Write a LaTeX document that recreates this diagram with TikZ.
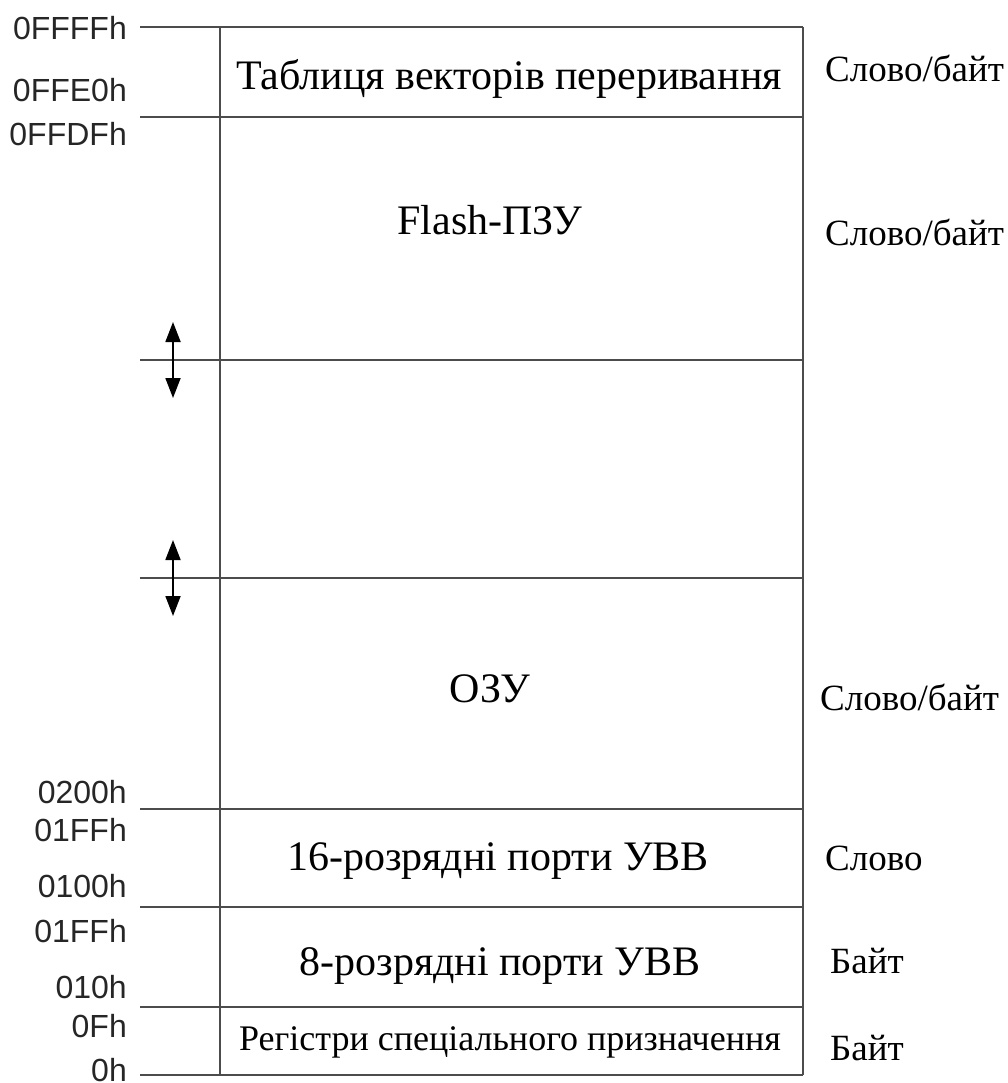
\documentclass[tikz,border=0pt]{standalone}
\usepackage{fontspec}
\setmainfont{Liberation Serif}
\newfontfamily\addrfont{Liberation Sans}
\usetikzlibrary{arrows.meta}
\tikzset{
  sepline/.style={line width=1.8pt, black!70},
  addrlbl/.style={anchor=base east, inner sep=0pt, font=\addrfont\fontsize{32}{36}\selectfont, text=black!85},
  arealbl/.style={anchor=base, inner sep=0pt, font=\fontsize{42}{46}\selectfont},
  smallarealbl/.style={anchor=base, inner sep=0pt, font=\fontsize{36}{40}\selectfont},
  acclbl/.style={anchor=base west, inner sep=0pt, font=\fontsize{37}{41}\selectfont},
  shiftarrow/.style={line width=1.8pt, black, {Triangle[width=15pt,length=20pt]}-{Triangle[width=15pt,length=20pt]}}
}
\begin{document}
\begin{tikzpicture}[x=1pt,y=-1pt]
\useasboundingbox (0,0) rectangle (1007,1083);
% boundary coordinates
\foreach \n/\y in {a/27,b/117,c/360,d/578,e/809,f/907,g/1007,h/1075}{
  \coordinate (\n L) at (140,\y);
  \coordinate (\n R) at (803,\y);
  \draw[sepline] (\n L) -- (\n R);
}
\coordinate (vt) at (220,27);
\coordinate (vb) at (220,1075);
\coordinate (rt) at (803,27);
\coordinate (rb) at (803,1075);
\draw[sepline] (vt) -- (vb);
\draw[sepline] (rt) -- (rb);
% shift arrows
\coordinate (s1t) at (173,322); \coordinate (s1b) at (173,398);
\coordinate (s2t) at (173,540); \coordinate (s2b) at (173,616);
\draw[shiftarrow] (s1t) -- (s1b);
\draw[shiftarrow] (s2t) -- (s2b);
% area texts
\node[arealbl] (tab) at (509,90) {Таблиця векторів переривання};
\node[arealbl] (flash) at (490,235) {Flash-ПЗУ};
\node[arealbl] (ram) at (490,702) {ОЗУ};
\node[arealbl] (p16) at (498,870) {16-розрядні порти УВВ};
\node[arealbl] (p8) at (500,975) {8-розрядні порти УВВ};
\node[smallarealbl] (reg) at (510,1050) {Регістри спеціального призначення};
% access widths
\node[acclbl] (w1) at (825,82) {Слово/байт};
\node[acclbl] (w2) at (825,245) {Слово/байт};
\node[acclbl] (w3) at (820,710) {Слово/байт};
\node[acclbl] (w4) at (825,870) {Слово};
\node[acclbl] (w5) at (830,973) {Байт};
\node[acclbl] (w6) at (830,1060) {Байт};
% addresses
\node[addrlbl] (ad1) at (127,40) {0FFFFh};
\node[addrlbl] (ad2) at (127,102) {0FFE0h};
\node[addrlbl] (ad3) at (127,146) {0FFDFh};
\node[addrlbl] (ad4) at (127,803) {0200h};
\node[addrlbl] (ad5) at (127,841) {01FFh};
\node[addrlbl] (ad6) at (127,897) {0100h};
\node[addrlbl] (ad7) at (127,942) {01FFh};
\node[addrlbl] (ad8) at (127,998) {010h};
\node[addrlbl] (ad9) at (127,1037) {0Fh};
\node[addrlbl] (ad10) at (127,1081) {0h};
\end{tikzpicture}
\end{document}
